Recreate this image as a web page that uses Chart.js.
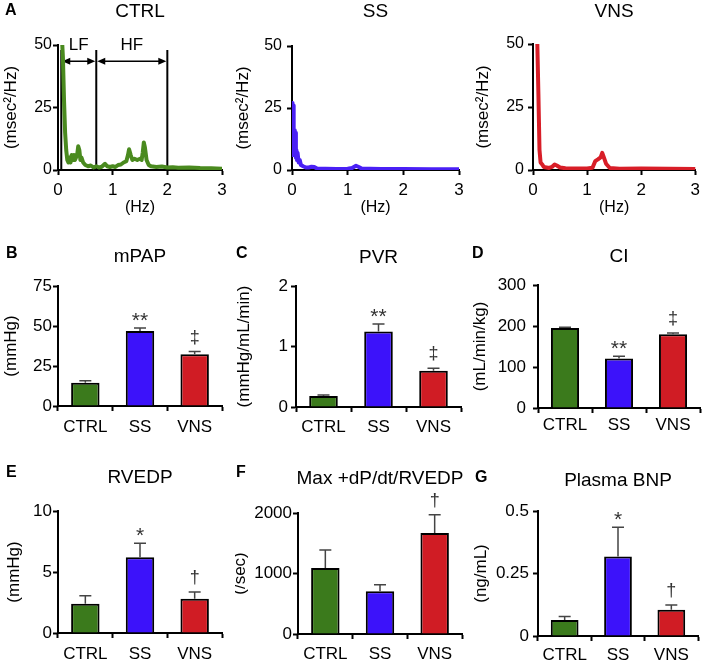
<!DOCTYPE html>
<html>
<head>
<meta charset="utf-8">
<script src="https://cdn.jsdelivr.net/npm/chart.js@4.4.1/dist/chart.umd.min.js"></script>
<style>
  body { margin: 0; background: #fff; }
  #fig { position: relative; width: 705px; height: 663px; overflow: hidden; }
  #fig canvas { position: absolute; }
</style>
</head>
<body>
<div id="fig"></div>
<script>
var FONT = '"Liberation Sans", Arial, sans-serif';

var groups = ['CTRL', 'SS', 'VNS'];
var groupColors = ['#3b7a1c', '#3c12fa', '#d01c24'];
var lineColors = ['#4a8a1f', '#4a20f5', '#d81e28'];

// A: power spectra (Hz, msec^2/Hz)
var ctrlHz  = [0.03, 0.06, 0.09, 0.11, 0.13, 0.15, 0.17, 0.19, 0.21, 0.23, 0.25, 0.27, 0.29, 0.31, 0.33, 0.35, 0.37, 0.39, 0.41, 0.43, 0.46, 0.5, 0.55, 0.6, 0.65, 0.7, 0.75, 0.8, 0.86, 0.9, 0.95, 1.0, 1.05, 1.1, 1.15, 1.2, 1.25, 1.28, 1.3, 1.33, 1.36, 1.4, 1.45, 1.5, 1.53, 1.55, 1.57, 1.59, 1.62, 1.66, 1.7, 1.8, 1.9, 2.0, 2.1, 2.2, 2.4, 2.6, 2.8, 3.0];
var ctrlPow = [62, 58, 45, 28, 15, 8, 4, 3, 5, 3, 6, 4, 6, 4, 5, 6, 9.5, 8, 4, 5, 3, 2, 1.5, 1.8, 1, 1.5, 1, 1.3, 2.5, 1.5, 1.2, 1.5, 1.2, 2, 2.2, 3, 3.5, 6, 8.3, 6, 4, 4.5, 4, 4.5, 4, 7, 11, 9, 4, 2, 1.5, 1.2, 1.4, 1, 1.1, 0.9, 1, 0.8, 0.7, 0.5];
var ssHz  = [0.0, 0.01, 0.02, 0.03, 0.04, 0.05, 0.06, 0.07, 0.08, 0.09, 0.1, 0.12, 0.14, 0.16, 0.2, 0.25, 0.3, 0.35, 0.4, 0.45, 0.5, 0.6, 0.8, 1.0, 1.08, 1.15, 1.2, 1.25, 1.4, 1.6, 2.0, 2.5, 3.0];
var ssPow = [27, 6, 26, 8, 16, 6, 15, 5, 8, 4, 7, 3, 4, 2, 1.5, 1, 1, 1.3, 1.2, 0.6, 0.5, 0.5, 0.4, 0.5, 0.8, 1.7, 1.2, 0.6, 0.5, 0.4, 0.4, 0.3, 0.3];
var vnsHz  = [0.02, 0.07, 0.1, 0.12, 0.14, 0.17, 0.2, 0.25, 0.3, 0.35, 0.4, 0.44, 0.5, 0.6, 0.8, 1.0, 1.1, 1.15, 1.2, 1.25, 1.28, 1.31, 1.35, 1.42, 1.6, 2.0, 2.5, 3.0];
var vnsPow = [70, 60, 30, 8, 3, 2.2, 1.2, 1, 0.8, 1.2, 2.2, 1.8, 1, 0.7, 0.6, 0.6, 0.9, 3.5, 4.2, 5, 6.8, 5, 2.5, 0.8, 0.5, 0.6, 0.5, 0.4];
var specTicksX = [0, 1, 2, 3];
var specTicksY = [0, 25, 50];
var bandEdges = [0.06, 0.7, 2.0];
var bandNames = ['LF', 'HF'];

// B-G: mean, SE and significance marks
var mpapMean = [14.5, 46.8, 32.3];
var mpapErr = [1.3, 1.9, 1.7];
var mpapMarks = ['', '**', '\u2021'];
var mpapTicks = [0, 25, 50, 75];

var pvrMean = [0.18, 1.25, 0.6];
var pvrErr = [0.02, 0.12, 0.04];
var pvrMarks = ['', '**', '\u2021'];
var pvrTicks = [0, 1, 2];

var ciMean = [195, 121, 180];
var ciErr = [2, 5, 3];
var ciMarks = ['', '**', '\u2021'];
var ciTicks = [0, 100, 200, 300];

var rvedpMean = [2.4, 6.2, 2.8];
var rvedpErr = [0.66, 1.15, 0.57];
var rvedpMarks = ['', '*', '\u2020'];
var rvedpTicks = [0, 5, 10];

var dpdtMean = [1090, 705, 1670];
var dpdtErr = [300, 110, 300];
var dpdtMarks = ['', '', '\u2020'];
var dpdtTicks = [0, 1000, 2000];

var bnpMean = [0.064, 0.318, 0.105];
var bnpErr = [0.014, 0.117, 0.019];
var bnpMarks = ['', '*', '\u2020'];
var bnpTicks = [0, 0.25, 0.5];

var fig = document.getElementById('fig');

function addCanvas(p) {
  var c = document.createElement('canvas');
  c.width = p.cw; c.height = p.ch;
  c.style.left = p.cx + 'px'; c.style.top = p.cy + 'px';
  fig.appendChild(c);
  return c;
}

function panelPlugin(p) {
  return {
    id: 'panel',
    beforeDatasetsDraw: function(chart) {
      if (!p.bands) return;
      var ctx = chart.ctx, xs = chart.scales.x, ys = chart.scales.y;
      var y0 = ys.getPixelForValue(0), yTop = ys.getPixelForValue(48), yArr = ys.getPixelForValue(43.5), yLab = ys.getPixelForValue(50);
      ctx.save();
      ctx.strokeStyle = '#000'; ctx.fillStyle = '#000'; ctx.lineWidth = 2;
      bandEdges.forEach(function(v) {
        var x = xs.getPixelForValue(v);
        ctx.beginPath(); ctx.moveTo(x, y0); ctx.lineTo(x, yTop); ctx.stroke();
      });
      ctx.font = '17px ' + FONT; ctx.textAlign = 'center'; ctx.textBaseline = 'middle';
      for (var i = 0; i < bandNames.length; i++) {
        var a = xs.getPixelForValue(bandEdges[i]) + 1, b = xs.getPixelForValue(bandEdges[i + 1]) - 1;
        ctx.lineWidth = 1.5;
        ctx.beginPath(); ctx.moveTo(a + 6, yArr); ctx.lineTo(b - 6, yArr); ctx.stroke();
        ctx.beginPath(); ctx.moveTo(a, yArr); ctx.lineTo(a + 8, yArr - 3.5); ctx.lineTo(a + 8, yArr + 3.5); ctx.closePath(); ctx.fill();
        ctx.beginPath(); ctx.moveTo(b, yArr); ctx.lineTo(b - 8, yArr - 3.5); ctx.lineTo(b - 8, yArr + 3.5); ctx.closePath(); ctx.fill();
        ctx.fillText(bandNames[i], (a + b) / 2, yLab);
      }
      ctx.restore();
    },
    afterDatasetsDraw: function(chart) {
      var ctx = chart.ctx, area = chart.chartArea;
      ctx.save();
      if (p.err) {
        var ys = chart.scales.y, meta = chart.getDatasetMeta(0);
        meta.data.forEach(function(bar, i) {
          var top = ys.getPixelForValue(p.mean[i] + p.err[i]);
          ctx.strokeStyle = '#444'; ctx.lineWidth = 1.5;
          ctx.beginPath();
          ctx.moveTo(bar.x, bar.y); ctx.lineTo(bar.x, top);
          ctx.moveTo(bar.x - 6, top); ctx.lineTo(bar.x + 6, top);
          ctx.stroke();
          var mk = p.marks[i];
          if (mk) {
            ctx.font = (mk.charAt(0) === '*' ? '21px ' : '18px ') + FONT; ctx.fillStyle = '#333';
            ctx.textAlign = 'center'; ctx.textBaseline = 'alphabetic';
            var m = ctx.measureText(mk);
            ctx.fillText(mk, bar.x, top - 7 - m.actualBoundingBoxDescent);
          }
        });
      }
      ctx.fillStyle = '#000';
      ctx.font = '19px ' + FONT; ctx.textAlign = 'center'; ctx.textBaseline = 'middle';
      ctx.fillText(p.title, (area.left + area.right) / 2, p.titleY - p.cy);
      ctx.font = 'bold 16px ' + FONT; ctx.textAlign = 'left'; ctx.textBaseline = 'top';
      ctx.fillText(p.letter, p.letterX - p.cx, p.letterY - p.cy);
      ctx.restore();
    }
  };
}

function yScale(p, ticks) {
  var size = p.yTitleSize || 17;
  return {
    min: ticks[0], max: ticks[ticks.length - 1],
    afterBuildTicks: function(s) { s.ticks = ticks.map(function(v) { return { value: v }; }); },
    afterFit: function(s) { s.width = p.L - p.cx; },
    ticks: { color: '#000', font: { family: FONT, size: p.tickSize || 17 }, padding: p.yPad,
      callback: function(v) { return String(v); } },
    grid: { drawOnChartArea: false, tickLength: 5, tickWidth: 2, tickColor: '#000' },
    border: { display: true, color: '#000', width: 2 },
    title: { display: true, text: p.yTitle, color: '#000', font: { family: FONT, size: size },
      padding: { top: p.yTitleX - p.cx - size * 0.6, bottom: 0 } }
  };
}

function baseOptions(p) {
  return {
    responsive: false, animation: false,
    layout: { padding: { top: p.T - p.cy, right: p.cx + p.cw - p.R, left: 0, bottom: 0 } },
    plugins: { legend: { display: false }, tooltip: { enabled: false } }
  };
}

function spectrum(p, hz, pow, color) {
  var opts = baseOptions(p);
  opts.scales = {
    x: {
      type: 'linear', min: 0, max: 3,
      afterBuildTicks: function(s) { s.ticks = specTicksX.map(function(v) { return { value: v }; }); },
      afterFit: function(s) { s.height = p.cy + p.ch - p.B; },
      ticks: { color: '#000', font: { family: FONT, size: 17 }, padding: p.xPad, maxRotation: 0 },
      grid: { drawOnChartArea: false, tickLength: 5, tickWidth: 2, tickColor: '#000' },
      border: { display: true, color: '#000', width: 2 },
      title: { display: true, text: '(Hz)', color: '#000', font: { family: FONT, size: 16 }, padding: { top: 0, bottom: 8 } }
    },
    y: yScale(p, specTicksY)
  };
  new Chart(addCanvas(p), {
    type: 'line',
    data: { datasets: [{
      data: hz.map(function(x, i) { return { x: x, y: pow[i] }; }),
      borderColor: color, borderWidth: 4, pointRadius: 0, tension: 0,
      borderJoinStyle: 'round', borderCapStyle: 'round'
    }] },
    options: opts,
    plugins: [panelPlugin(p)]
  });
}

function barPanel(p, mean, err, marks, ticks) {
  p.mean = mean; p.err = err; p.marks = marks;
  var opts = baseOptions(p);
  opts.scales = {
    x: {
      type: 'category', offset: true,
      afterFit: function(s) { s.height = p.cy + p.ch - p.B; },
      ticks: { color: '#000', font: { family: FONT, size: 17 }, padding: p.xPad, maxRotation: 0, autoSkip: false },
      grid: { drawOnChartArea: false, offset: true, tickLength: 5, tickWidth: 2, tickColor: '#000' },
      border: { display: true, color: '#000', width: 2 }
    },
    y: yScale(p, ticks)
  };
  new Chart(addCanvas(p), {
    type: 'bar',
    data: { labels: groups, datasets: [{
      data: mean, backgroundColor: groupColors, borderColor: '#000', borderWidth: 2,
      barPercentage: 0.52, categoryPercentage: 1
    }] },
    options: opts,
    plugins: [panelPlugin(p)]
  });
}

var rowA = { cy: 0, ch: 225 }, rowB = { cy: 240, ch: 210 }, rowE = { cy: 460, ch: 203 };

function geo(col, row, o) {
  o.cx = [0, 235, 470][col]; o.cw = 235; o.cy = row.cy; o.ch = row.ch;
  return o;
}

spectrum(geo(0, rowA, { L: 58, R: 222, T: 45, B: 170, letter: 'A', letterX: 5, letterY: 3, title: 'CTRL', titleY: 12,
  yTitle: '(msec\u00b2/Hz)', yTitleX: 11, yPad: 1, xPad: 5, tickSize: 16, bands: true }), ctrlHz, ctrlPow, lineColors[0]);
spectrum(geo(1, rowA, { L: 292, R: 459, T: 46, B: 170, letter: '', letterX: 0, letterY: 0, title: 'SS', titleY: 12,
  yTitle: '(msec\u00b2/Hz)', yTitleX: 243, yPad: 5, xPad: 5, tickSize: 16 }), ssHz, ssPow, lineColors[1]);
spectrum(geo(2, rowA, { L: 533, R: 701, T: 44, B: 170, letter: '', letterX: 0, letterY: 0, title: 'VNS', titleY: 12,
  yTitle: '(msec\u00b2/Hz)', yTitleX: 483, yPad: 4, xPad: 5, tickSize: 16 }), vnsHz, vnsPow, lineColors[2]);

barPanel(geo(0, rowB, { L: 58, R: 222, T: 286, B: 406, letter: 'B', letterX: 6, letterY: 246, title: 'mPAP', titleY: 257,
  yTitle: '(mmHg)', yTitleX: 11, yPad: 1, xPad: 6 }), mpapMean, mpapErr, mpapMarks, mpapTicks);
barPanel(geo(1, rowB, { L: 296, R: 461, T: 286, B: 407, letter: 'C', letterX: 236, letterY: 246, title: 'PVR', titleY: 258,
  yTitle: '(mmHg/mL/min)', yTitleX: 244, yPad: 3, xPad: 5 }), pvrMean, pvrErr, pvrMarks, pvrTicks);
barPanel(geo(2, rowB, { L: 538, R: 700, T: 285, B: 408, letter: 'D', letterX: 472, letterY: 246, title: 'CI', titleY: 257,
  yTitle: '(mL/min/kg)', yTitleX: 480, yPad: 7, xPad: 2 }), ciMean, ciErr, ciMarks, ciTicks);

barPanel(geo(0, rowE, { L: 58, R: 222, T: 511, B: 633, letter: 'E', letterX: 6, letterY: 465, title: 'RVEDP', titleY: 478,
  yTitle: '(mmHg)', yTitleX: 14, yPad: 1, xPad: 6 }), rvedpMean, rvedpErr, rvedpMarks, rvedpTicks);
barPanel(geo(1, rowE, { L: 298, R: 462, T: 513, B: 634, letter: 'F', letterX: 236, letterY: 465, title: 'Max +dP/dt/RVEDP', titleY: 479,
  yTitle: '(/sec)', yTitleX: 240, yPad: 1, xPad: 5 }), dpdtMean, dpdtErr, dpdtMarks, dpdtTicks);
barPanel(geo(2, rowE, { L: 538, R: 698, T: 511, B: 636, letter: 'G', letterX: 475, letterY: 470, title: 'Plasma BNP', titleY: 481,
  yTitle: '(ng/mL)', yTitleX: 481, yPad: 4, xPad: 4 }), bnpMean, bnpErr, bnpMarks, bnpTicks);
</script>
</body>
</html>
